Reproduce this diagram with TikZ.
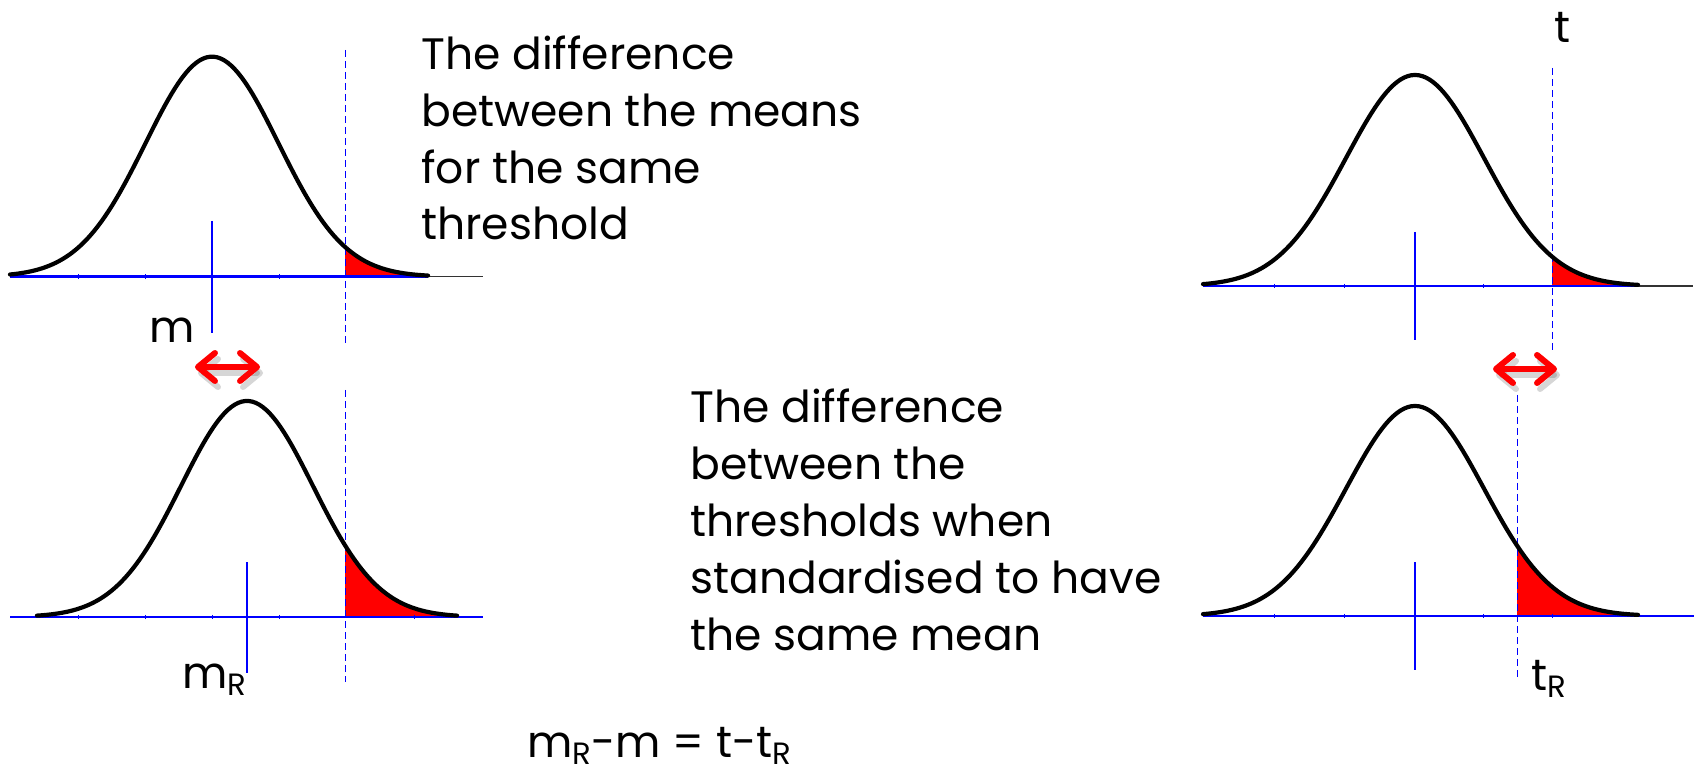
\documentclass[tikz,border=0pt]{standalone}
\usepackage{fontspec}
\setmainfont{Poppins}
\usetikzlibrary{arrows.meta}
\definecolor{pblue}{RGB}{0,0,255}
\definecolor{pred}{RGB}{255,0,0}
\newcommand\subR{\raisebox{-0.3ex}{\scalebox{0.7}{R}}}
% #1 mean, #2 baseline, #3 height, #4 sigma, #5 left end, #6 right end, #7 threshold
\newcommand\bellcurve[7]{%
  \fill[pred] (#7,#2) -- plot[domain=#7:#6,samples=40] (\x,{#2-#3*exp(-0.5*((\x-#1)/#4)^2)}) -- (#6,#2) -- cycle;
}
\begin{document}
\begin{tikzpicture}[x=0.5pt,y=-0.5pt,
  curveline/.style={line width=2.1pt,black,line cap=round,line join=round},
  axisline/.style={line width=1.2pt,pblue},
  tailline/.style={line width=0.7pt,black!80},
  meanline/.style={line width=0.8pt,pblue},
  thrline/.style={line width=0.5pt,pblue,dash pattern=on 3.5pt off 2pt},
  axtick/.style={line width=0.5pt,pblue},
  bigtext/.style={font=\fontsize{22}{28.4}\selectfont,align=left,inner sep=0pt},
  lbl/.style={font=\fontsize{22}{26}\selectfont,inner sep=0pt},
  barb/.tip={Straight Barb[length=8.5pt,width=14pt,round]},
  dblarrow/.style={line width=3pt,pred,line cap=round,barb-barb},
  arrshadow/.style={line width=3pt,black,opacity=0.16,line cap=round,barb-barb}
]
\useasboundingbox (0,0) rectangle (1696,774);

% ---------- top-left curve ----------
\draw[tailline] (420,276.7) -- (483,276.7);
\bellcurve{212}{276.7}{220}{66.5}{10}{428}{345}
\draw[axisline] (10,276.7) -- (428,276.7);
\foreach \t in {78,145,279} \draw[axtick] (\t,274.5) -- (\t,279);
\draw[meanline] (212,221) -- (212,333);
\draw[thrline] (345,50) -- (345,343);
\draw[curveline] plot[domain=10:428,samples=120] (\x,{276.7-220*exp(-0.5*((\x-212)/66.5)^2)});

% ---------- bottom-left curve ----------
\bellcurve{247}{617}{216}{66}{37}{457}{345}
\draw[axisline] (10,617) -- (483,617);
\foreach \t in {78,145,212,279,414} \draw[axtick] (\t,614.8) -- (\t,619.2);
\draw[meanline] (247,562) -- (247,673);
\draw[thrline] (345,390) -- (345,682);
\draw[curveline] plot[domain=37:457,samples=120] (\x,{617-216*exp(-0.5*((\x-247)/66)^2)});

% ---------- top-right curve ----------
\draw[tailline] (1630,286) -- (1693,286);
\bellcurve{1415}{286}{211}{69}{1203}{1638}{1552}
\draw[axisline] (1203,286) -- (1638,286);
\foreach \t in {1274,1344,1483} \draw[axtick] (\t,283.8) -- (\t,288.2);
\draw[meanline] (1415,232) -- (1415,340);
\draw[thrline] (1552,68) -- (1552,350);
\draw[curveline] plot[domain=1203:1638,samples=120] (\x,{286-211*exp(-0.5*((\x-1415)/69)^2)});

% ---------- bottom-right curve ----------
\bellcurve{1415}{616}{210}{69}{1203}{1638}{1517}
\draw[axisline] (1203,616) -- (1694,616);
\foreach \t in {1274,1344,1483,1552} \draw[axtick] (\t,613.8) -- (\t,618.2);
\draw[meanline] (1415,562) -- (1415,670);
\draw[thrline] (1517,395) -- (1517,680);
\draw[curveline] plot[domain=1203:1638,samples=120] (\x,{616-210*exp(-0.5*((\x-1415)/69)^2)});

% ---------- arrows ----------
\coordinate (la1) at (195,367);
\coordinate (la2) at (260,367);
\coordinate (ra1) at (1493,369);
\coordinate (ra2) at (1557,369);
\coordinate (las1) at (198,373);
\coordinate (las2) at (263,373);
\coordinate (ras1) at (1496,375);
\coordinate (ras2) at (1560,375);
\draw[arrshadow] (las1) -- (las2);
\draw[arrshadow] (ras1) -- (ras2);
\draw[dblarrow] (la1) -- (la2);
\draw[dblarrow] (ra1) -- (ra2);

% ---------- labels ----------
\node[lbl,anchor=base] (lm) at (172,343) {m};
\node[lbl,anchor=base west] (lmr) at (182,688) {m\subR};
\node[lbl,anchor=base] (lt) at (1562,43) {t};
\node[lbl,anchor=base west] (ltr) at (1531,690) {t\subR};
\node[lbl,anchor=base west] (eq) at (527,757) {m\subR-m = t-t\subR};

% ---------- text blocks (base anchor = last line baseline) ----------
\node[bigtext,anchor=base west] (txt1) at (421,240) {The difference\\between the means\\for the same\\threshold};
\node[bigtext,anchor=base west] (txt2) at (690,650) {The difference\\between the\\thresholds when\\standardised to have\\the same mean};
\end{tikzpicture}
\end{document}
